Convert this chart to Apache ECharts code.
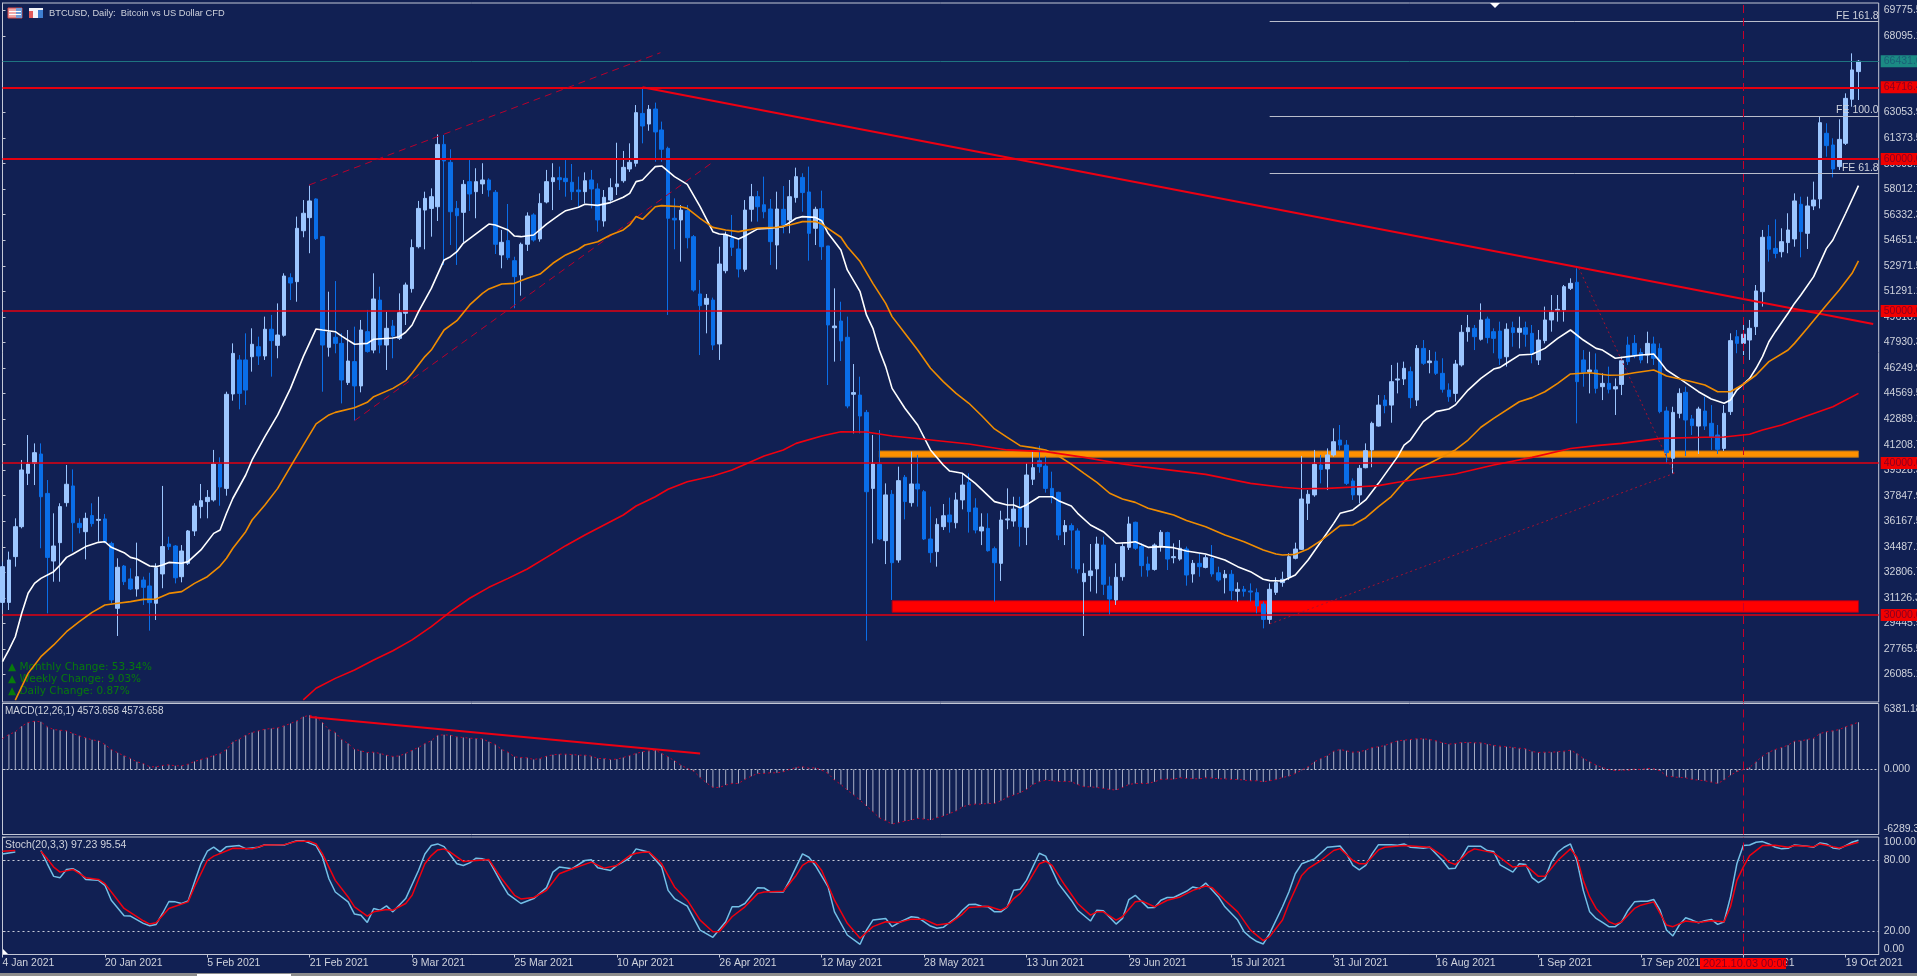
<!DOCTYPE html>
<html>
<head>
<meta charset="utf-8">
<title>BTCUSD Daily</title>
<style>
  html, body { margin: 0; padding: 0; background: #112053; }
  #chart { width: 1917px; height: 976px; }
</style>
<script src="https://cdn.jsdelivr.net/npm/echarts@6/dist/echarts.min.js"></script>
</head>
<body>
<div id="chart"></div>
<script>
// candles, one value per daily bar, bar 0 = 4 Jan 2021
var opens = [
30830,30830,33840,35810,39320,39980,40590,38000,33550,34760,
37390,38490,36030,35480,36540,36230,36320,34710,30440,33220,
32370,31710,32300,31910,30770,32700,34670,34540,32520,33400,
35530,37130,37460,37570,39930,38330,44540,46780,46780,46990,
47650,47040,48800,47740,48400,52190,51930,55280,56140,57370,
54890,47610,48270,47870,45290,46670,45070,48640,47430,50720,
47760,49010,48200,49850,51470,54230,56640,56750,56860,60960,
59780,56750,56490,58510,57850,58360,58620,57810,53690,54630,
53310,52370,54390,56320,54740,57170,58510,58770,58730,58470,
57960,57850,58620,58030,55920,57300,58180,58570,59340,59720,
63000,62300,63290,61910,60700,56100,55990,56600,54890,51120,
50440,50720,47830,52650,54780,54080,52740,56690,57520,56990,
56710,54340,56690,55990,57460,58790,57830,55440,56730,54280,
48900,49340,48270,44520,44470,43330,38330,39910,34890,37940,
33620,39060,37390,38620,38110,35000,34170,35810,36580,36070,
37570,38730,37040,35530,35700,34360,33400,36250,36180,37020,
35770,38930,40150,39800,38330,38070,35480,35880,35530,32190,
32590,33030,34600,31910,30990,32520,34450,36100,34500,33350,
33000,34500,35420,33770,33680,34340,32700,33400,33130,33730,
32780,32450,32680,31560,31690,31580,31470,30720,29710,31490,
32130,32480,33730,34320,37350,37900,39870,39610,40530,41510,
41180,38820,37900,39690,40860,42430,44140,43810,45460,45530,
46010,44140,47540,46600,46710,45900,44800,44580,46450,48640,
48860,48140,49470,48640,48680,46990,48900,48600,48900,48530,
46780,48050,49410,50020,50070,51490,51890,46780,46010,46120,
45020,45240,44870,45170,47760,47870,47260,47100,47830,47540,
43420,40310,43270,44650,42900,42430,43420,42610,41840,40960,
43380,48310,47870,48090,48970,51270,54890,54120,53900,54500,
54740,57020,55110,56910,57370,61690,60920,59500,61030,63930,
65750];
var closes = [
33180,33620,35810,39540,39930,40680,37780,33790,34540,37130,
38600,36070,35750,36360,36010,36290,34820,30990,33140,32190,
31710,32520,31820,30810,33110,34500,34500,32450,34210,35530,
37170,37520,37740,39930,38420,44520,47210,44580,44800,47810,
47040,48800,48050,48420,52300,51840,55440,56430,57240,54760,
47760,48600,47870,45460,46710,45070,48750,47330,50790,47760,
48860,48360,49890,51710,54170,56750,57410,57520,60960,59870,
56530,56270,58330,57700,58510,58620,57960,54390,54520,53510,
52260,54390,56250,54670,57080,58510,58770,58640,58510,57850,
57850,58570,58030,55990,57480,58110,58360,59450,59780,63050,
62170,63270,61780,60640,56100,55990,56640,54820,51380,50350,
50830,47760,53090,55000,54190,52760,56640,57520,56860,56530,
54560,56710,55660,57520,58840,57790,55110,56690,54230,49080,
49010,48030,43750,44630,43090,38110,39930,35000,37900,33440,
38840,37460,38620,38290,35000,34100,35960,36530,36120,37570,
38550,36800,35590,35790,34230,33440,36250,36320,36970,35810,
39210,39690,39760,38330,37780,35260,35880,35590,33030,32740,
32900,34670,32020,31050,32480,34500,35990,34390,33250,32960,
34600,35440,33680,33840,34390,32630,33400,33180,33770,32700,
32300,32680,31600,31690,31560,31510,30590,29710,31690,32130,
32350,33840,34340,37630,37940,39910,39580,40530,41400,41180,
38660,37900,39650,40810,42610,43810,43770,45350,45530,46230,
44300,47540,46560,46710,45900,44850,44360,46510,48600,48900,
48310,49410,48250,48200,46890,48800,48580,48860,48470,47170,
48090,49410,49920,50110,51600,51820,45350,45970,46120,44910,
45240,44850,45020,46730,46670,47100,46780,47870,46890,43380,
40680,43330,44580,42830,42460,43550,42430,41730,40900,43270,
48050,47870,48470,48860,51320,54850,54060,53790,54560,55330,
57240,55220,56910,57300,62390,60880,59340,61290,63990,65860,
66431.6];
var highs = [
33510,34170,36360,40200,41840,41290,41290,38880,36690,37350,
39870,39580,36360,36730,37350,37780,36640,34820,33730,33290,
33070,34760,32520,32780,33400,38490,35150,34600,34600,35590,
37350,38620,38220,40860,40370,44690,47870,47100,48530,48860,
48310,49630,49740,50500,52480,52480,56210,57300,58250,57410,
54940,51270,51970,48530,48750,48970,49410,50070,52480,51600,
49950,49410,51160,51870,54710,57240,57850,58070,61620,61580,
60640,57240,58620,59930,59390,59720,58730,57960,55330,57040,
53570,54500,56490,56430,57740,59280,59720,59500,59930,59670,
58840,59120,59280,58400,57960,58730,61070,60530,61030,63550,
64710,63550,63710,62460,60810,57410,56970,56970,55000,52040,
51120,50880,54230,55220,56320,54780,57300,58360,57900,58840,
57370,57850,58220,58620,59430,59060,59500,56860,57920,54280,
51490,50610,49630,46510,45680,43490,41840,42170,38660,38220,
39760,39210,40750,40530,38220,37130,36360,37300,37720,38050,
39320,39320,37680,36690,36690,34500,36860,38330,37780,37780,
39980,40750,41140,40420,39430,38110,36250,36030,35700,33400,
34670,35150,35150,32520,33400,34710,36470,36140,34710,33840,
34710,35590,35480,34710,34930,34500,33620,34060,33950,34600,
33180,32960,32960,32150,31910,32080,31750,30880,32080,32480,
32850,34060,34760,40460,38220,40860,40530,40960,42280,42500,
41510,38990,39870,41290,42720,44470,44470,46450,46600,46670,
46340,47760,48090,47430,47320,46890,45240,46780,49080,49740,
49080,50500,49630,48860,49300,49190,49300,49630,49300,49080,
48750,50290,51050,51050,51710,52150,52810,47430,47320,47210,
45900,46340,45570,46990,48310,48420,47540,48640,48310,47870,
43700,43700,44910,45020,43160,43700,44360,43810,42500,43810,
48530,48750,49080,49410,51710,55330,55660,56030,55440,56430,
57740,57520,57520,58510,62780,62350,61360,62610,64320,66950,
66510];
var lows = [
30330,30330,33180,35700,38550,38550,34390,30110,32190,32190,
37130,34170,35370,33660,35810,34830,34710,30770,28620,31970,
31640,31210,30660,28970,29670,31760,34280,32080,32150,33290,
35200,36360,36360,37460,37190,37850,44100,43530,43820,46010,
46450,46780,45680,46890,48310,50720,50610,54850,53800,54670,
44690,47000,47220,43920,45130,42790,44650,47260,47220,47220,
46120,46890,48090,49080,51210,54120,54060,54890,55920,53030,
54340,53030,54500,56580,56100,57700,57520,53750,52810,53360,
50180,51010,53950,54560,54560,57080,56640,57960,57520,57300,
56860,57080,56750,55220,55550,57190,57630,58440,59150,59500,
61030,61860,59820,59820,49740,54060,53250,54120,51270,47100,
48530,47430,46780,52480,53620,52210,52590,55880,55880,56100,
53030,52740,55110,55110,57130,56530,53310,54340,53360,45130,
46670,46710,43600,41950,41950,28310,34710,34930,33350,30990,
33440,36290,37130,37130,34930,33440,33180,35590,35420,35700,
36950,35420,35370,34600,34170,30880,32240,35640,35810,34500,
34600,38550,39360,38050,37350,34930,34600,33070,32740,28620,
31540,31420,31320,30000,30660,32260,34280,34280,32520,32520,
32920,34170,32960,33400,33570,31930,32130,32520,33070,32520,
32190,31420,30990,30880,31210,30880,30110,29120,29410,31320,
31860,32300,33660,34280,36250,37780,38660,38220,40420,40860,
38550,37570,37350,39650,39720,42390,43270,42650,44580,45130,
43600,43750,46450,45900,45790,44630,44030,44030,46340,47980,
47430,48050,47870,47220,46450,46340,47650,47540,47650,46560,
46450,47870,48640,49300,49300,51380,42610,45020,44580,44580,
44140,44580,43160,44470,46450,46890,46560,46560,46450,43270,
39980,39320,42940,40460,41840,40590,42170,40860,40590,40790,
43160,47220,47100,46780,48420,50290,53250,53470,53530,53800,
54230,53530,54080,56640,56750,60150,58790,59280,60920,63440,
63880];

// moving averages, [bar, price]
var whiteMA = [[0,26930],[1,27700],[2,28570],[3,30110],[4,31430],[5,32080],[6,32410],[8,32850],[9,33290],[10,33790],[11,34010],[13,34500],[15,34780],[16,34820],[17,34450],[19,34100],[20,33790],[21,33680],[23,33220],[24,33180],[25,33290],[26,33460],[28,33400],[29,33510],[31,34280],[33,35370],[34,35590],[35,36690],[36,37680],[38,39210],[39,40200],[41,41730],[43,43160],[45,44910],[47,47000],
[49,48820],[50,48750],[52,48640],[53,48350],[55,47810],[57,47870],[58,48140],[61,48220],[62,48310],[63,48600],[64,49080],[65,49960],[67,51490],[69,53360],[70,53570],[71,53900],[72,54450],[76,55720],[77,55660],[79,55330],[80,54930],[81,54890],[83,55000],[85,55720],[87,56320],[88,56600],[90,56820],[91,57020],[93,56950],[95,57130],[97,57480],[98,57740],[99,58510],
[100,58620],[101,59060],[102,59500],[103,59540],[105,58840],[107,58330],[109,56860],[111,55220],[112,55070],[113,55040],[115,54740],[116,54930],[118,55400],[120,55440],[122,55550],[124,56100],[125,56210],[127,56160],[128,55940],[129,55110],[131,54010],[132,52700],[134,51270],[135,49740],[136,48860],[137,47430],
[138,46340],[139,44910],[141,43600],[143,42500],[145,40860],[147,39870],[148,39470],[150,39320],[152,38660],[155,37460],[157,37240],[158,37240],[159,37060],[160,37240],[162,37780],[164,37780],[165,37520],[167,37170],[168,36690],[170,35920],[172,35480],[174,34720],[176,34760],[177,34820],[179,34450],[181,34500],[183,34430],[185,34210],[188,34010],[191,33620],[193,33180],[195,32850],[197,32350],[198,32260],
[200,32240],[202,32630],[204,33620],[206,34820],[208,36030],[209,36690],[211,36910],[213,37570],[215,38660],[218,40420],[219,41180],[220,41510],[222,42720],[224,43380],[226,43550],[227,43820],[229,44800],[231,45570],[233,46180],[234,46290],[235,46560],[237,47100],[239,47150],[241,47540],[243,48200],[245,48750],[247,48090],[249,47540],[250,47430],[252,46890],[254,47000],[256,47100],[258,47170],[259,46670],[260,46120],[262,45570],[265,44690],[267,44210],[269,43930],[270,44140],[271,44800],[273,45570],[274,46230],[275,47000],[276,47980],[277,48640],[279,49850],[280,50500],[281,51050],[283,52260],[285,54120],[286,54670],[288,56430],[290,58250]];
var orangeMA = [[2,24400],[4,26160],[6,27260],[8,28030],[10,28900],[12,29560],[14,30170],[16,30660],[18,30770],[20,30880],[22,31030],[24,31050],[26,31420],[28,31540],[30,32080],[32,32520],[34,33220],[35,33730],[36,34390],[38,35480],[39,36250],[41,37240],[43,38330],[45,39760],[47,41180],[49,42570],[51,43160],[52,43330],[55,43640],[57,43990],[58,44360],[61,44910],[63,45420],[64,45900],[66,47000],[67,47430],
[68,48090],[69,48750],[71,49360],[73,50400],[75,51160],[76,51450],[78,51780],[80,51820],[82,52150],[84,52430],[86,53140],[88,53690],[90,54060],[91,54340],[93,54560],[95,55000],[97,55330],[98,55660],[99,56210],
[100,56030],[102,56860],[103,56930],[106,56860],[107,56750],[109,56100],[111,55500],[113,55330],[115,55220],[117,55370],[118,55460],[121,55500],[123,55660],[125,55880],[127,55880],[128,55720],[131,54850],[132,54230],[134,53250],[136,51820],[138,50500],[139,49630],[141,48530],[143,47430],
[145,46230],[147,45350],[149,44580],[151,43930],[153,43110],[155,42240],[157,41690],[159,41140],[161,41010],[163,40860],[165,40460],[167,39930],[169,39320],[171,38730],[173,38010],[175,37630],[177,37410],[179,37020],[181,36800],[183,36580],[185,36210],[188,35810],[191,35260],[194,34820],[197,34280],[199,34010],
[200,33950],[202,33990],[204,34340],[206,34890],[209,35880],[211,35920],[213,36400],[215,37130],[217,37790],[219,38770],[221,39580],[223,39980],[227,40860],[229,41510],[231,42350],[233,42940],[237,44030],[239,44300],[241,44690],[243,45240],[245,45860],[248,45940],[251,45770],[253,45790],[255,45940],[258,46120],[259,45940],[260,45720],[264,45350],[266,45130],[268,44690],[270,44690],[272,45180],[274,45790],[276,46670],[279,47430],
[280,47870],[282,48860],[284,49890],[285,50390],[287,51380],[289,52480],[290,53290]];
var redMA = [[47,24410],[49,25180],[52,25830],[55,26380],[58,27040],[61,27650],[64,28360],[67,29230],[70,30220],[73,31100],[76,31820],[79,32410],[82,33030],[85,33790],[88,34560],[91,35260],[94,35920],[97,36580],[99,37170],
[102,37780],[104,38270],[107,38770],[111,39140],[114,39540],[119,40460],[122,40860],[124,41290],[128,41780],[131,42060],[135,42040],[139,41780],[144,41560],[151,41250],[157,40860],[163,40750],[169,40370],[175,39930],[178,39760],[188,39250],[195,38660],[200,38400],
[203,38310],[207,38330],[212,38440],[215,38510],[218,38730],[221,38930],[227,39280],[233,39870],[239,40370],[245,40950],[249,41140],[253,41290],[259,41620],[266,41690],[269,41710],[273,41890],[275,42170],[278,42500],[282,43110],[286,43700],[290,44580]];

// MACD histogram, one value per bar
var macdVals = [
2995,3381,3639,4186,4540,4669,4605,4122,3864,3800,
3735,3478,3252,3059,2866,2769,2415,1932,1610,1320,
1063,741,580,258,258,386,451,354,354,515,
773,966,1127,1352,1546,1932,2673,2930,3317,3574,
3735,3896,3961,4025,4218,4444,4701,5088,5249,5088,
4540,3864,3574,2898,2512,1964,1803,1642,1674,1546,
1385,1256,1320,1546,1868,2125,2512,2769,3317,3349,
3317,3156,3091,3027,2995,2962,2673,2415,1932,1674,
1224,1159,1127,966,1063,1288,1417,1481,1481,1449,
1385,1385,1288,1063,1063,966,998,1159,1352,1546,
1707,1803,1868,1546,1224,837,419,97,-161,-773,
-1288,-1739,-1739,-1513,-1352,-1352,-966,-644,-386,-386,
-322,-322,-225,0,193,258,129,161,-64,-386,
-1030,-1449,-1996,-2479,-2962,-3542,-4089,-4669,-4959,-5281,
-5152,-4991,-4894,-4733,-4798,-4894,-4669,-4508,-4250,-4025,
-3606,-3445,-3349,-3349,-3284,-3284,-3027,-2705,-2479,-2254,
-1932,-1449,-1191,-1030,-1095,-1159,-1159,-1191,-1449,-1674,
-1674,-1739,-1835,-1932,-1996,-1739,-1449,-1352,-1352,-1352,
-1191,-966,-934,-934,-805,-869,-902,-902,-805,-837,
-902,-902,-966,-966,-1030,-1095,-1095,-1191,-1095,-966,
-773,-644,-386,-64,258,741,1063,1320,1771,1932,
1803,1674,1707,1868,2125,2190,2318,2576,2769,2834,
2898,2962,2962,2898,2769,2576,2447,2512,2608,2608,
2576,2576,2447,2318,2254,2190,2125,2061,1996,1739,
1642,1674,1674,1707,1771,1868,1546,1063,741,419,
193,0,-97,-64,-64,32,0,97,64,-129,
-644,-708,-773,-805,-966,-1030,-1095,-1224,-1352,-1030,
-547,-225,0,193,741,1288,1674,1932,2125,2351,
2737,2769,2898,3027,3478,3639,3735,3864,4122,4347,
4573.658];

// stochastic, [bar, value]; the gap at bars 3-5 sits behind the pane caption
var stochMain = [[0,85.6],[2,87.3],[3,null],[6,88.5],[7,77.2],[8,66.5],[9,65.4],[10,72.4],[11,73.0],[12,70.1],[13,63.9],[15,63.1],[16,58.9],[17,46.2],[19,33.0],[20,32.7],[22,26.5],[23,24.5],[24,25.6],[25,34.9],[26,45.1],[27,44.8],[28,43.4],[29,45.6],[30,61.7],[31,77.2],[32,87.9],[33,91.3],[34,87.3],[35,91.8],[37,92.7],[38,90.1],[40,91.3],[41,93.5],[44,93.2],[46,96.9],[47,96.9],[49,92.7],[50,82.8],[51,64.5],[52,53.2],[54,44.8],[55,34.4],[56,33.5],[57,27.3],[58,39.2],[59,37.7],[60,41.4],[61,36.3],[63,47.6],[65,71.5],[66,85.6],[67,92.7],[68,94.1],[69,91.8],[71,77.2],[72,75.8],[73,78.0],[74,82.0],[75,81.4],[76,80.0],[78,60.3],[79,51.3],[81,43.4],[83,47.6],[85,56.9],[86,70.1],[87,74.4],[89,73.0],[91,80.0],[92,80.6],[93,73.8],[95,71.5],[96,75.8],[98,82.0],[99,89.9],
[100,88.5],[101,87.0],[103,74.4],[104,54.6],[105,47.6],[107,41.1],[109,20.8],[111,14.6],[113,27.9],[114,40.6],[115,40.6],[116,43.4],[118,56.9],[119,56.6],[120,53.2],[122,53.2],[123,63.1],[125,85.6],[126,82.8],[127,75.8],[129,57.5],[130,36.3],[132,16.6],[134,8.7],[135,20.8],[136,29.3],[138,30.7],[139,23.7],[140,27.0],[142,32.1],[143,31.5],[145,24.2],[146,22.3],[147,23.1],[149,31.5],[150,37.7],[151,42.5],[152,42.8],[153,41.1],[154,40.6],[155,36.3],[156,36.3],[157,40.6],[158,54.6],[159,55.5],[160,63.1],[162,86.2],[163,83.7],[165,60.3],[167,46.2],[168,37.7],[170,28.5],[171,37.7],[172,37.2],[174,25.9],[175,30.7],[176,46.8],[177,50.4],[179,39.7],[180,40.0],[181,46.2],[182,48.5],[183,48.5],[185,53.8],[186,57.5],[187,56.1],[188,60.8],[190,49.0],[191,40.6],[193,29.3],[194,19.4],[195,14.6],[196,11.0],[197,9.0],[198,18.0],
[200,40.6],[201,53.2],[202,68.7],[203,77.2],[205,81.4],[207,91.3],[209,92.4],[210,85.6],[211,75.8],[212,72.1],[213,75.8],[214,85.6],[215,93.5],[217,93.5],[218,93.0],[219,94.1],[220,91.3],[222,90.4],[223,91.3],[225,80.0],[226,73.0],[227,73.5],[228,82.8],[229,92.1],[231,92.1],[232,88.5],[233,87.6],[234,76.3],[236,70.1],[237,77.2],[238,76.6],[239,65.4],[240,61.1],[241,64.5],[242,78.6],[243,87.0],[244,91.3],[245,94.1],[246,80.0],[247,54.6],[248,36.3],[249,30.7],[250,27.3],[251,23.7],[252,23.7],[253,27.9],[254,37.7],[255,44.8],[256,45.4],[257,45.4],[258,46.8],[259,37.7],[260,20.8],[261,15.8],[262,25.1],[263,31.3],[264,29.3],[265,27.0],[266,28.7],[267,29.9],[268,25.6],[269,27.9],[270,49.0],[271,77.2],[272,92.7],[273,93.2],[274,95.5],[275,96.1],[276,94.1],[277,91.3],[278,89.9],[279,90.4],[280,93.2],[282,92.1],[283,91.3],[284,94.9],[285,94.1],[286,90.7],[287,89.9],[288,92.7],[289,95.5],[290,97.23]];
var stochSignal = [[0,87.9],[2,88.5],[3,null],[6,87.9],[7,81.4],[8,74.4],[9,70.1],[11,72.4],[13,65.4],[15,63.9],[16,60.3],[19,39.2],[22,28.7],[23,25.9],[24,27.0],[26,39.2],[27,41.1],[29,44.8],[30,57.5],[32,80.0],[33,83.7],[36,90.4],[39,89.9],[41,93.2],[44,93.5],[46,96.3],[48,96.3],[49,94.1],[50,85.6],[52,63.1],[54,49.0],[55,40.6],[57,32.7],[58,36.3],[60,38.3],[61,37.7],[63,43.4],[64,50.4],[66,77.2],[67,84.2],[68,89.0],[69,89.9],[70,87.0],[72,79.2],[76,80.8],[78,64.5],[80,50.4],[81,47.3],[83,48.5],[85,54.6],[87,68.7],[89,73.0],[92,78.6],[94,73.5],[96,75.8],[98,84.2],[99,86.2],
[100,87.0],[101,87.3],[103,77.2],[105,57.5],[107,46.2],[109,29.3],[111,19.4],[112,19.4],[114,32.1],[116,40.6],[118,51.8],[119,53.2],[122,53.8],[124,67.3],[125,75.8],[126,79.2],[127,78.6],[128,71.5],[130,46.2],[132,26.5],[134,13.8],[136,23.7],[138,27.9],[140,27.3],[142,30.1],[144,29.9],[146,25.1],[148,26.5],[150,34.4],[151,40.0],[154,41.1],[156,37.7],[157,40.6],[158,47.6],[159,51.8],[160,58.9],[162,77.2],[163,79.4],[164,75.8],[166,58.9],[168,43.4],[170,33.5],[171,36.3],[172,36.3],[174,29.3],[175,32.1],[177,44.8],[178,45.6],[180,40.6],[182,46.2],[184,49.0],[186,54.6],[188,58.3],[189,56.9],[191,46.2],[193,36.3],[195,20.8],[197,11.8],[198,15.2],
[200,29.3],[201,43.4],[203,67.3],[204,73.0],[206,80.0],[208,88.5],[209,90.1],[211,80.0],[212,77.2],[213,77.2],[215,89.0],[216,91.3],[219,92.7],[223,91.3],[225,84.2],[226,78.6],[227,76.6],[229,87.0],[230,89.9],[233,86.5],[236,74.4],[238,75.8],[240,66.5],[241,66.5],[243,80.0],[245,89.9],[246,82.8],[247,63.1],[248,49.0],[249,39.2],[251,27.9],[252,25.6],[253,27.9],[255,39.2],[256,42.0],[258,44.8],[260,25.1],[261,23.7],[263,28.5],[265,27.3],[267,28.7],[269,27.9],[270,40.6],[271,63.1],[272,74.4],[273,84.2],[275,92.7],[277,93.0],[279,91.3],[280,92.7],[283,91.8],[284,94.1],[286,91.8],[287,90.7],[289,94.1],[290,95.54]];

// axis ticks as printed on the chart
var priceTicks = [69775.5,68095.1,66414.7,64734.3,63053.9,61373.5,59693.1,58012.7,56332.3,54651.9,52971.5,51291.1,49610.7,47930.3,46249.9,44569.5,42889.1,41208.7,39528.3,37847.9,36167.5,34487.1,32806.7,31126.3,29445.9,27765.5,26085.1];
var macdTicks = [-6289.3,0,6381.18];
var stochTicks = [0,20,80,100];
var dateBars = [0,16,32,48,64,80,96,112,128,144,160,176,192,208,224,240,256,272,288];
var dateLabels = ['4 Jan 2021','20 Jan 2021','5 Feb 2021','21 Feb 2021','9 Mar 2021','25 Mar 2021','10 Apr 2021','26 Apr 2021','12 May 2021','28 May 2021','13 Jun 2021','29 Jun 2021','15 Jul 2021','31 Jul 2021','16 Aug 2021','1 Sep 2021','17 Sep 2021','3 Oct 2021','19 Oct 2021'];

// drawn objects
var redLevels = [64716.4,60000,50000,40000,30000];
var lastPrice = 66431.6;
var feLevels = [['FE 161.8',69033],['FE 100.0',62830],['FE 61.8',59030]];
var feStartBar = 198;
var cursorBar = 272;
var lastBar = 293.16;
var orangeBand = [137,290,40375,40790];
var redBand = [139,290,30178,30941];
var downTrend = [[100,64716],[292.3,49145]];
var channelUpper = [[47.9,58290],[102.8,66993]];
var channelLower = [[55,42783],[111,59800]];
var feLegA = [[198,29410],[261.2,39320]];
var feLegB = [[246.3,52830],[261.2,39320]];
var macdTrend = [[48,5086],[109,1547]];

var FONT = '"Liberation Sans", sans-serif';
var BG = '#112053';
var AXIS = '#c3c7d6';
var TXT = '#cfd2dc';
var RED = '#e4000f';

function trendSeries(name, pts, color, width, type, xi, z) {
  return {
    name: name, type: 'line', data: pts, xAxisIndex: xi, yAxisIndex: xi,
    showSymbol: false, silent: true, z: z || 4, animation: false,
    lineStyle: { color: color, width: width, type: type || 'solid' }
  };
}

function cursorLine(z) {
  return {
    silent: true, symbol: 'none', animation: false, z: z,
    lineStyle: { color: '#c8002a', width: 1, type: [8, 5] },
    label: { show: false },
    data: [{ xAxis: cursorBar }]
  };
}

function levelBox(value, bg, fg, lineColor, width) {
  return {
    yAxis: value,
    lineStyle: { color: lineColor, width: width, type: 'solid' },
    label: {
      show: true, position: 'end', distance: 2, formatter: value.toFixed(1),
      color: fg, backgroundColor: bg, padding: [1, 40, 0, 3],
      fontFamily: FONT, fontSize: 10.5
    }
  };
}

var candleData = opens.map(function (o, i) { return [i, o, closes[i], lows[i], highs[i]]; });

var levelData = redLevels.map(function (v, i) {
  return levelBox(v, '#f00000', '#8a0020', RED, i < 2 ? 2 : 1.5);
});
levelData.push(levelBox(lastPrice, '#1b8a84', '#1b5f78', '#1f7480', 1));

var feData = feLevels.map(function (f) {
  return [
    { coord: [feStartBar, f[1]], lineStyle: { color: '#b9bdcb', width: 1, type: 'solid' },
      label: { show: true, position: 'insideEndTop', distance: 0, formatter: f[0], color: TXT, fontFamily: FONT, fontSize: 10.5 } },
    { coord: [lastBar, f[1]] }
  ];
});

function yAxisBase(i, min, max, ticks, fmt, pinEnds) {
  var label = {
    show: true, inside: false, margin: 5, color: TXT, fontFamily: FONT, fontSize: 10.5,
    customValues: ticks, formatter: fmt, showMinLabel: true, showMaxLabel: true
  };
  if (pinEnds) {
    label.verticalAlignMaxLabel = 'top';
    label.verticalAlignMinLabel = 'bottom';
  }
  return {
    type: 'value', gridIndex: i, position: 'right', min: min, max: max, scale: true,
    splitLine: { show: false },
    axisLine: { show: true, lineStyle: { color: AXIS, width: 1 } },
    axisTick: { show: true, length: 3, lineStyle: { color: AXIS }, customValues: ticks },
    axisLabel: label
  };
}

function xAxisBase(i, withLabels) {
  return {
    type: 'value', gridIndex: i, min: 0, max: lastBar,
    splitLine: { show: false },
    axisLine: { show: withLabels, lineStyle: { color: AXIS } },
    axisTick: { show: withLabels, length: 3, lineStyle: { color: AXIS }, customValues: dateBars },
    axisLabel: withLabels ? {
      show: true, margin: 3, align: 'left', color: TXT, fontFamily: FONT, fontSize: 10.5,
      customValues: dateBars, showMinLabel: true, showMaxLabel: true,
      formatter: function (v) { return dateLabels[dateBars.indexOf(v)] || ''; }
    } : { show: false }
  };
}

function caption(text, left, top, color, size, family) {
  return { text: text, left: left, top: top, padding: 0, textStyle: { color: color || TXT, fontFamily: family || FONT, fontSize: size || 10.5, fontWeight: 'normal' } };
}

function pane(top, height) {
  // outerBoundsMode none: the price labels run off the window edge on purpose
  return { left: 2.5, top: top, width: 1876.2, height: height, outerBoundsMode: 'none', show: true, backgroundColor: 'transparent', borderColor: AXIS, borderWidth: 1 };
}

var myChart = echarts.init(document.getElementById('chart'), null, { width: 1917, height: 976 });

var GREEN = '#087a0c';
var DEJAVU = '"DejaVu Sans", sans-serif';

var option = {
  animation: false,
  backgroundColor: BG,
  title: [
    caption('BTCUSD, Daily:  Bitcoin vs US Dollar CFD', 49, 9, TXT, 9.3),
    caption('MACD(12,26,1) 4573.658 4573.658', 5, 706, TXT, 10),
    caption('Stoch(20,3,3) 97.23 95.54', 5, 840),
    caption('▲ Monthly Change: 53.34%', 8, 662, GREEN, 10.5, DEJAVU),
    caption('▲ Weekly Change: 9.03%', 8, 674, GREEN, 10.5, DEJAVU),
    caption('▲ Daily Change: 0.87%', 8, 686, GREEN, 10.5, DEJAVU)
  ],
  grid: [pane(3, 699), pane(703.5, 131), pane(837, 117.5)],
  xAxis: [xAxisBase(0, false), xAxisBase(1, false), xAxisBase(2, true)],
  yAxis: [
    yAxisBase(0, 24276, 70263, priceTicks, function (v) { return v.toFixed(1); }, false),
    yAxisBase(1, -6289.3, 6381.18, macdTicks, function (v) { return v === 0 ? '0.000' : String(v); }, true),
    yAxisBase(2, 0, 100, stochTicks, function (v) { return v.toFixed(2); }, true)
  ],
  graphic: [
    // terminal window furniture
    { type: 'rect', shape: { x: 0, y: 973, width: 1917, height: 3 }, style: { fill: '#8c8c8c' }, z: 50 },
    { type: 'rect', shape: { x: 197, y: 974, width: 94, height: 2 }, style: { fill: '#ffffff' }, z: 51 },
    { type: 'rect', shape: { x: 8, y: 8, width: 14, height: 10 }, style: { fill: '#f0a8a8', stroke: '#d84a4a' }, z: 50 },
    { type: 'rect', shape: { x: 16, y: 8, width: 6, height: 10 }, style: { fill: '#6f9bd8' }, z: 51 },
    { type: 'rect', shape: { x: 9, y: 11, width: 12, height: 1 }, style: { fill: '#ffffff' }, z: 52 },
    { type: 'rect', shape: { x: 9, y: 14, width: 12, height: 1 }, style: { fill: '#ffffff' }, z: 52 },
    { type: 'rect', shape: { x: 29, y: 8, width: 14, height: 10 }, style: { fill: '#f2f4fa' }, z: 50 },
    { type: 'rect', shape: { x: 29, y: 11, width: 4, height: 7 }, style: { fill: '#e05a5a' }, z: 51 },
    { type: 'rect', shape: { x: 38, y: 10, width: 5, height: 8 }, style: { fill: '#3f7fd0' }, z: 51 },
    { type: 'polygon', shape: { points: [[1490, 3], [1500, 3], [1495, 8]] }, style: { fill: '#ffffff' }, z: 50 },
    { type: 'polygon', shape: { points: [[3, 949], [8, 954], [3, 954]] }, style: { fill: '#ffffff' }, z: 50 },
    { type: 'rect', shape: { x: 1700, y: 958, width: 86, height: 11 }, style: { fill: '#ff0000' }, z: 52 },
    { type: 'text', x: 1703, y: 958, z: 53, style: { text: '2021.10.03 00:00', fill: '#8a0020', font: '11px ' + FONT } }
  ],
  series: [
    {
      name: 'bands', type: 'line', data: [], xAxisIndex: 0, yAxisIndex: 0, z: 1, silent: true,
      markArea: {
        silent: true, z: 1,
        data: [
          [{ coord: [orangeBand[0], orangeBand[3]], itemStyle: { color: '#ff9000', borderColor: '#a86a20', borderWidth: 1 } }, { coord: [orangeBand[1], orangeBand[2]] }],
          [{ coord: [redBand[0], redBand[3]], itemStyle: { color: '#ff0000', borderColor: '#a00020', borderWidth: 1 } }, { coord: [redBand[1], redBand[2]] }]
        ]
      }
    },
    {
      name: 'BTCUSD', type: 'candlestick', data: candleData, xAxisIndex: 0, yAxisIndex: 0,
      encode: { x: 0, y: [1, 2, 3, 4] }, barWidth: 4, z: 2, silent: true,
      itemStyle: { color: '#9cc6ff', color0: '#0a6ee8', borderColor: '#9cc6ff', borderColor0: '#0a6ee8', borderWidth: 1 },
      markLine: { silent: true, symbol: 'none', animation: false, z: 3, data: levelData.concat(feData) }
    },
    trendSeries('trend', downTrend, '#ee0012', 2, 'solid', 0, 4),
    trendSeries('channel upper', channelUpper, '#b8002c', 1, [7, 5], 0, 4),
    trendSeries('channel lower', channelLower, '#b8002c', 1, [7, 5], 0, 4),
    trendSeries('fe leg a', feLegA, '#a8102e', 1, [2, 3], 0, 4),
    trendSeries('fe leg b', feLegB, '#a8102e', 1, [2, 3], 0, 4),
    trendSeries('white ma', whiteMA, '#ffffff', 1.6, 'solid', 0, 6),
    trendSeries('orange ma', orangeMA, '#f08c00', 1.6, 'solid', 0, 6),
    trendSeries('red ma', redMA, '#f0000f', 1.6, 'solid', 0, 6),
    {
      name: 'cursor', type: 'line', data: [], xAxisIndex: 0, yAxisIndex: 0, silent: true,
      markLine: cursorLine(5)
    },
    {
      name: 'MACD', type: 'bar', data: macdVals.map(function (v, i) { return [i, v]; }), xAxisIndex: 1, yAxisIndex: 1,
      barWidth: 1, silent: true, z: 2, itemStyle: { color: '#a7adc4' },
      markLine: {
        silent: true, symbol: 'none', animation: false, z: 3, label: { show: false },
        lineStyle: { color: '#c9ccd8', width: 1, type: [2, 2] },
        data: [{ yAxis: 0 }]
      }
    },
    trendSeries('macd signal', macdVals.map(function (v, i) { return [i, v]; }), '#c0002a', 1, [2, 3], 1, 4),
    trendSeries('macd trend', macdTrend, '#ee0012', 2, 'solid', 1, 5),
    {
      name: 'cursor2', type: 'line', data: [], xAxisIndex: 1, yAxisIndex: 1, silent: true,
      markLine: cursorLine(5)
    },
    trendSeries('stoch main', stochMain, '#73bfe6', 1.5, 'solid', 2, 4),
    trendSeries('stoch signal', stochSignal, '#f0000f', 1.5, 'solid', 2, 5),
    {
      name: 'stoch levels', type: 'line', data: [], xAxisIndex: 2, yAxisIndex: 2, silent: true,
      markLine: {
        silent: true, symbol: 'none', animation: false, z: 3, label: { show: false },
        lineStyle: { color: '#c9ccd8', width: 1, type: [2, 3] },
        data: [{ yAxis: 80 }, { yAxis: 20 }]
      }
    },
    {
      name: 'cursor3', type: 'line', data: [], xAxisIndex: 2, yAxisIndex: 2, silent: true,
      markLine: cursorLine(5)
    }
  ]
};

myChart.setOption(option);
</script>
</body>
</html>
